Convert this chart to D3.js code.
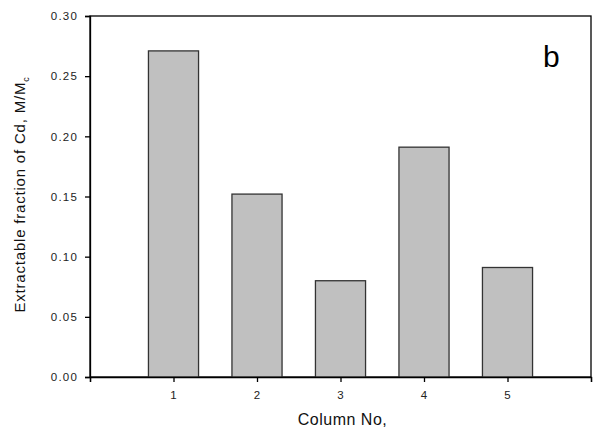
<!DOCTYPE html>
<html><head><meta charset="utf-8">
<script src="https://cdn.jsdelivr.net/npm/d3@7"></script>
<style>body{margin:0;background:#fff}svg{display:block}</style>
</head><body>
<script>
const categories = [1, 2, 3, 4, 5];
const values = [0.271, 0.152, 0.080, 0.191, 0.091];
const yTicks = [0, 0.05, 0.10, 0.15, 0.20, 0.25, 0.30];

const W = 599, H = 431;
const m = {l: 90, r: 8, t: 16, b: 54};
const svg = d3.select("body").append("svg").attr("width", W).attr("height", H);
const x = d3.scaleLinear().domain([0, 6]).range([m.l, W - m.r]);
const y = d3.scaleLinear().domain([0, 0.30]).range([H - m.b, m.t]);
const font = "Liberation Sans, Arial, sans-serif";

// frame
svg.append("rect").attr("x", x(0)).attr("y", y(0.30)).attr("width", x(6) - x(0)).attr("height", y(0) - y(0.30))
  .attr("fill", "none").attr("stroke", "#000").attr("stroke-width", 1.3);

// bars
svg.selectAll("rect.bar").data(categories).enter().append("rect").attr("class", "bar")
  .attr("x", d => x(d - 0.3)).attr("width", d => x(d + 0.3) - x(d - 0.3))
  .attr("y", (d, i) => y(values[i])).attr("height", (d, i) => y(0) - y(values[i]))
  .attr("fill", "#c0c0c0").attr("stroke", "#333").attr("stroke-width", 1.3);

// axes
const xa = svg.append("g").attr("transform", `translate(0,${y(0)})`)
  .call(d3.axisBottom(x).tickValues([0, 1, 2, 3, 4, 5, 6]).tickFormat(d => (d >= 1 && d <= 5) ? d : "").tickSize(5).tickPadding(9));
const ya = svg.append("g").attr("transform", `translate(${x(0)},0)`)
  .call(d3.axisLeft(y).tickValues(yTicks).tickFormat(d3.format(".2f")).tickSize(5).tickPadding(7));
[xa, ya].forEach(g => {
  g.select(".domain").attr("stroke", "#000").attr("stroke-width", 1.3);
  g.selectAll(".tick line").attr("stroke", "#000").attr("stroke-width", 1.3);
  g.selectAll("text").attr("font-family", font).attr("font-size", 11.5).attr("letter-spacing", "1.2px").attr("fill", "#222");
});

// axis titles
svg.append("text").attr("x", x(3) + 2).attr("y", 425).attr("text-anchor", "middle")
  .attr("font-family", font).attr("font-size", 16).attr("letter-spacing", "0.5px").attr("fill", "#111").text("Column No,");
const yl = svg.append("text").attr("transform", `translate(25,${(y(0) + y(0.3)) / 2 - 2}) rotate(-90)`)
  .attr("text-anchor", "middle").attr("font-family", font).attr("font-size", 15).attr("letter-spacing", "0.8px").attr("fill", "#111");
yl.append("tspan").text("Extractable fraction of Cd, M/M");
yl.append("tspan").attr("font-size", 9).attr("dy", 4).text("c");

// panel letter
svg.append("text").attr("x", 543).attr("y", 67).attr("font-family", font).attr("font-size", 30).attr("fill", "#000").text("b");
</script>
</body></html>
